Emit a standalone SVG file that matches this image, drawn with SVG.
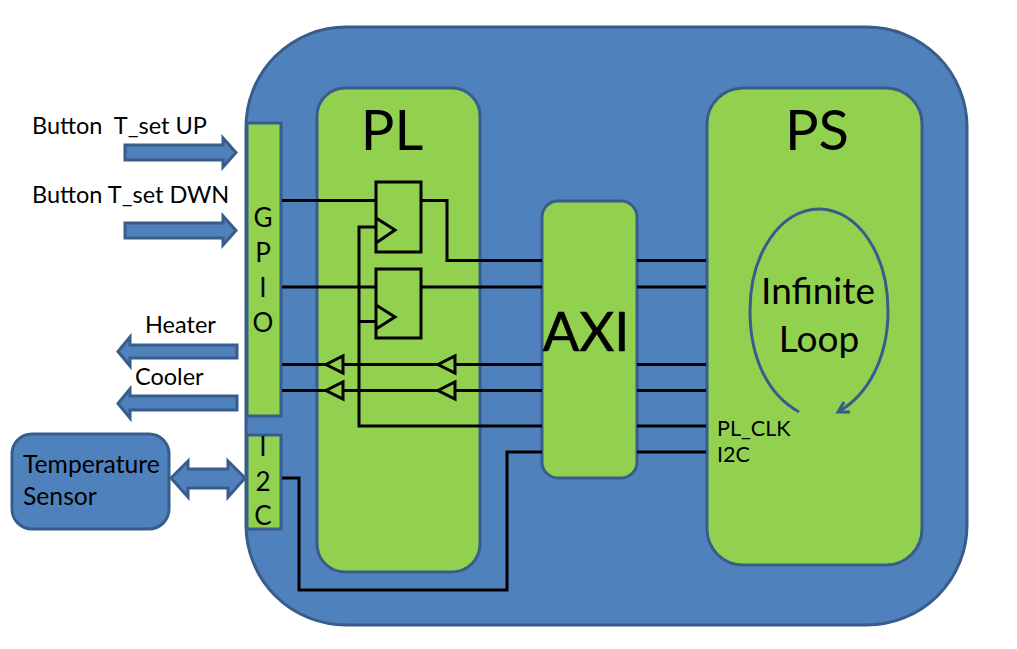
<svg xmlns="http://www.w3.org/2000/svg" width="1017" height="649" viewBox="0 0 1017 649">
<style>
.b{fill:#4F81BD;stroke:#385D8A;stroke-width:3}
.g{fill:#92D050;stroke:#385D8A;stroke-width:3}
.w{fill:none;stroke:#000;stroke-width:3;stroke-linejoin:miter}
.t{fill:#92D050;stroke:#000;stroke-width:3;stroke-linejoin:miter}
text{font-family:"Lato","Noto Sans","Liberation Sans",sans-serif;fill:#000}
.s{font-size:21.500px}
.l{font-size:23.500px}
.m{font-size:26px}
</style>
<rect width="1017" height="649" fill="#fff"/>
<g id="board"><rect class="b" x="246" y="27" width="721" height="598" rx="100"/></g>
<g id="pl"><rect class="g" x="317" y="88" width="163" height="484" rx="28"/><text x="392" y="150" font-size="56" text-anchor="middle">PL</text></g>
<g id="ps"><rect class="g" x="707" y="88" width="215" height="477" rx="36"/><text x="817" y="150" font-size="56" text-anchor="middle">PS</text>
<text x="818" y="304" font-size="37" text-anchor="middle">Infinite</text><text x="819" y="352" font-size="37" text-anchor="middle">Loop</text>
<text x="717" y="436" class="s">PL_CLK</text><text x="717" y="462" class="s">I2C</text>
<path d="M799,412C768,395 750,358 750,311C750,253 781,209 819,209C857,209 888,253 888,311C888,358 868,395 838,412" fill="none" stroke="#385D8A" stroke-width="3"/>
<path d="M844,402L838,412L850,412" fill="none" stroke="#385D8A" stroke-width="3"/></g>
<g id="axi"><rect class="g" x="542" y="201" width="95" height="277" rx="16"/><text x="586" y="351" font-size="54" stroke="#000" stroke-width="0.6" text-anchor="middle">AXI</text></g>
<g id="gpio"><rect class="g" x="247" y="123" width="34" height="293"/>
<text x="263" y="227" class="m" text-anchor="middle">G</text><text x="263" y="262" class="m" text-anchor="middle">P</text><text x="263" y="297" class="m" text-anchor="middle">I</text><text x="263" y="332" class="m" text-anchor="middle">O</text></g>
<g id="i2c"><rect class="g" x="247" y="435" width="34" height="94"/>
<text x="263" y="456" class="m" text-anchor="middle">I</text><text x="263" y="491" class="m" text-anchor="middle">2</text><text x="263" y="525" class="m" text-anchor="middle">C</text></g>
<g id="sensor"><rect class="b" x="12" y="434" width="157" height="95" rx="20"/><text x="23" y="473" font-size="24.700">Temperature</text><text x="23" y="505" font-size="24.700">Sensor</text></g>
<g id="ff1"><rect class="w" x="376" y="182" width="45" height="70"/><path class="w" d="M376,218L395,230L376,243"/></g>
<g id="ff2"><rect class="w" x="376" y="269" width="45" height="69"/><path class="w" d="M376,305L395,317L376,329"/></g>
<g id="connectors">
<path class="w" d="M282,200.500H376M421,200.500H447V260.500H542M282,287H376M421,287H542"/>
<path class="w" d="M376,227H359V426H542M359,321.500H376"/>
<path class="w" d="M282,364.500H542M282,390.500H542"/>
<path class="w" d="M282,478H299V590H507V452H542"/>
<path class="w" d="M637,260.500H706M637,287H706M637,364.500H706M637,390.500H706M637,426H706M637,452H706"/>
<path class="t" d="M343,356V373L326,364.500ZM455,356V373L438,364.500ZM343,382V399L326,390.500ZM455,382V399L438,390.500Z"/>
<path class="b" d="M125,145H223V138L236,152.500L223,167V160H125Z"/>
<path class="b" d="M125,223H223V216L236,230.500L223,245V238H125Z"/>
<path class="b" d="M237,345H130V337L118,351.500L130,366V358H237Z"/>
<path class="b" d="M237,396H130V389L118,403.500L130,418V410H237Z"/>
<path class="b" d="M171,478L188,461V469H228V461L245,478L228,497V488H188V497Z"/>
</g>
<g id="labels">
<text x="32" y="134" class="l" xml:space="preserve">Button  T_set UP</text>
<text x="32" y="203" class="l">Button T_set DWN</text>
<text x="145" y="333" class="l">Heater</text>
<text x="135" y="385" class="l">Cooler</text>
</g>
</svg>
